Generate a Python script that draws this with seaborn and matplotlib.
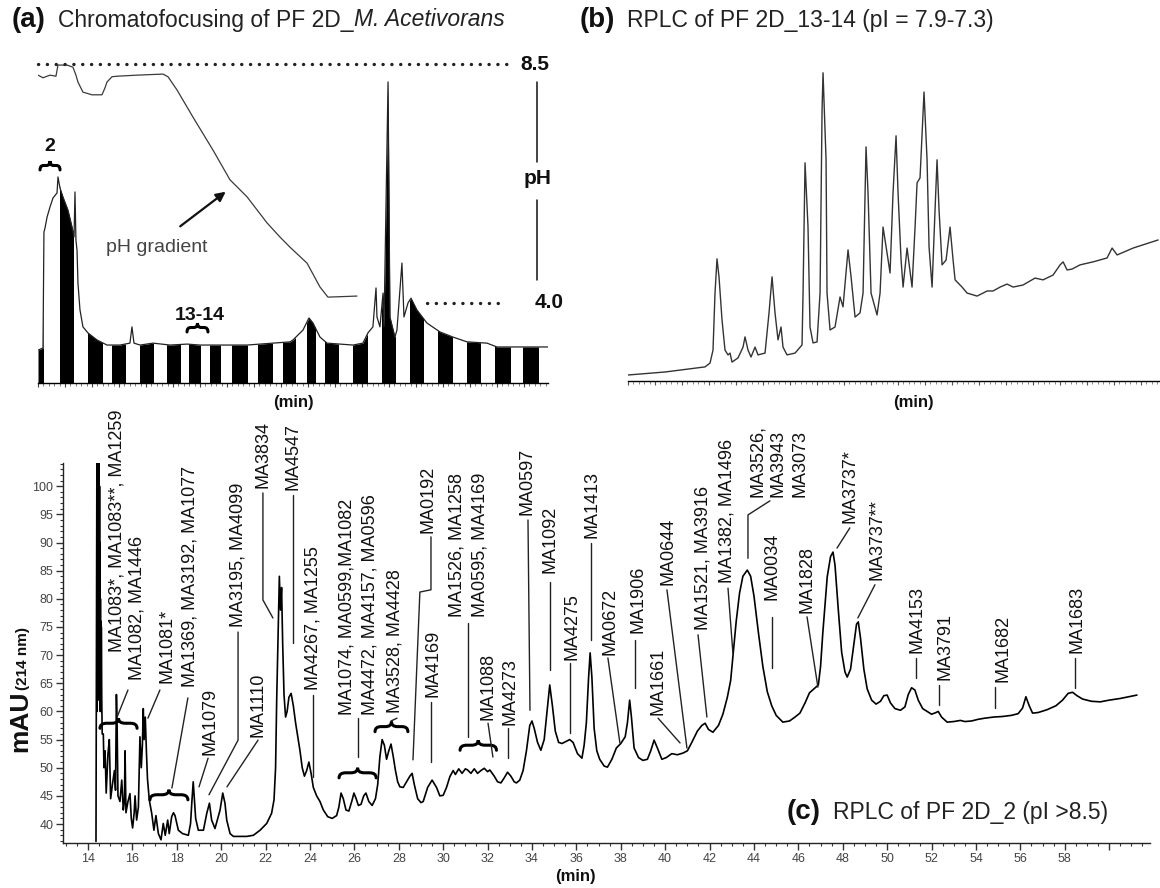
import matplotlib
matplotlib.use("Agg")
import matplotlib.pyplot as plt
from matplotlib.path import Path
from matplotlib.patches import PathPatch, Rectangle
from matplotlib.ticker import MultipleLocator
import seaborn as sns

sns.set_theme(style="white")
plt.rcParams["font.family"] = ["Liberation Sans", "DejaVu Sans"]

# ---------------- (a) chromatofocusing run ----------------
cf_time = [0.0, 0.37, 0.44, 0.52, 0.67, 0.89, 1.11, 1.41, 1.48, 1.63, 1.85, 2.22, 2.52, 2.67,
           2.74, 2.81, 2.89, 2.96, 3.11, 3.33, 3.70, 4.37, 5.11, 6.07, 6.81, 6.96, 7.11, 7.56,
           8.52, 9.78, 11.04, 12.0, 13.48, 15.48, 17.41, 18.67, 18.89, 19.63, 20.07, 20.37,
           20.89, 21.41, 23.33, 24.07, 24.44, 24.81, 25.04, 25.11, 25.33, 25.56, 25.63, 25.93,
           26.07, 26.44, 26.59, 26.96, 27.11, 27.41, 27.63, 28.07, 28.81, 29.78, 30.74, 31.78,
           33.26, 34.0, 35.19, 37.78]
cf_abs = [10.3, 11.0, 47.3, 48.6, 52.0, 55.2, 58.0, 59.6, 64.6, 61.1, 58.3, 54.2, 48.9, 45.8,
          59.9, 44.8, 41.7, 31.3, 22.9, 17.6, 15.7, 13.5, 11.9, 11.9, 12.5, 17.6, 12.5, 11.9,
          12.5, 11.9, 12.2, 11.9, 11.9, 11.9, 12.5, 12.9, 13.5, 16.6, 20.4, 18.8,
          14.4, 12.5, 11.9, 12.5, 15.7, 17.6, 29.8, 20.7, 17.6, 28.2, 17.6, 94.4,
          20.7, 14.4, 16.6, 37.6, 20.7, 25.1, 26.6, 22.9, 18.8, 16.0, 14.4, 12.9,
          12.5, 11.3, 11.3, 11.3]
ph_time = [0.0, 0.37, 0.67, 0.89, 1.33, 1.48, 2.15, 2.59, 2.81, 2.96, 3.33, 4.0, 4.74, 4.96,
           5.11, 5.48, 5.85, 7.33, 9.26, 9.63, 10.3, 11.48, 12.96, 14.22, 15.48, 16.96, 17.93,
           18.67, 19.93, 20.89, 21.48, 23.63]
ph_value = [8.29, 8.24, 8.27, 8.29, 8.27, 8.48, 8.48, 8.44, 8.29, 8.16, 7.97, 7.92, 7.92, 8.05,
            8.16, 8.26, 8.27, 8.29, 8.31, 8.26, 8.01, 7.50, 6.88, 6.32, 6.00, 5.51, 5.24,
            5.05, 4.75, 4.30, 4.11, 4.13]
fraction_edges = [0.0, 0.37, 1.63, 2.59, 3.70, 4.74, 5.48, 6.44, 7.56, 8.52, 9.56, 10.52, 11.19,
                  12.0, 12.74, 13.48, 14.37, 15.48, 16.3, 17.33, 18.15, 19.04, 19.93, 20.52,
                  21.26, 22.22, 23.33, 24.37, 25.48, 26.44, 27.56, 28.52, 29.63, 30.67, 31.78,
                  32.74, 33.85, 34.96, 35.93, 37.04, 37.78]
ph_limits = [8.5, 4.0]

# ---------------- (b) RPLC of fractions 13-14 ----------------
b_time = [0, 6.85, 14.26, 15.19, 15.74, 16.11, 16.48, 16.85, 17.41, 17.96, 18.52, 18.89, 19.26,
          20.37, 21.3, 21.67, 22.22, 22.78, 23.52, 24.07, 25.37, 26.11, 26.67, 27.22, 27.78,
          28.33, 28.7, 29.44, 30.93, 32.22, 32.41, 32.78, 33.33, 33.7, 34.26, 35.0, 35.56,
          35.93, 36.11, 36.67, 36.85, 37.41, 38.33, 39.26, 39.81, 40.74, 41.3, 42.04, 42.96,
          43.52, 44.07, 44.44, 45.0, 46.11, 46.67, 47.22, 47.96, 48.52, 49.07, 49.63, 50.0,
          50.56, 50.93, 51.67, 52.59, 53.15, 53.52, 54.07, 54.81, 55.37, 55.74, 56.3, 56.85,
          57.22, 57.59, 58.15, 58.89, 59.63, 60.19, 60.56, 61.85, 62.78, 64.63, 65.74, 66.48,
          67.59, 68.89, 70.19, 71.3, 73.15, 75.37, 76.85, 78.7, 80.0, 80.56, 81.3, 82.22,
          83.7, 86.11, 88.7, 89.63, 90.56, 93.52, 98.15]
b_abs = [2.0, 3.0, 4.7, 6.0, 10.3, 29.3, 40.7, 34.7, 20.3, 10.3, 8.7, 9.3, 6.3,
         7.7, 11.3, 14.7, 10.3, 8.0, 11.3, 8.7, 9.3, 22.7, 34.7, 22.7, 13.7,
         18.0, 11.3, 8.7, 9.3, 12.0, 29.3, 72.7, 51.3, 18.0, 12.7, 13.0, 29.3,
         90.3, 102.7, 73.7, 29.3, 17.0, 18.0, 28.0, 24.7, 43.7, 34.7, 21.3, 22.7,
         29.3, 78.0, 62.7, 29.3, 22.0, 29.3, 51.3, 42.7, 36.0, 62.7, 81.7, 62.7,
         40.3, 31.3, 44.3, 31.3, 51.3, 66.0, 67.7, 96.3, 73.7, 44.7, 31.3, 57.0,
         73.7, 57.0, 38.7, 40.3, 51.3, 40.3, 33.7, 31.3, 29.3, 28.3, 29.3, 30.0,
         30.0, 31.3, 32.3, 31.3, 32.0, 34.3, 33.7, 35.3, 38.7, 39.7, 37.0, 37.3,
         38.7, 39.7, 41.0, 44.3, 42.0, 44.3, 47.0]

# ---------------- (c) RPLC of fraction 2 ----------------
c_time = [14.36, 14.37, 14.40, 14.41, 14.42, 14.43, 14.44, 14.45, 14.46, 14.47, 14.48, 14.49,
          14.50, 14.51, 14.52, 14.53, 14.54, 14.55, 14.56, 14.57, 14.58, 14.59, 14.60, 14.62,
          14.64, 14.69, 14.72, 14.77, 14.82, 14.90, 14.96, 15.02, 15.10, 15.19, 15.24, 15.28,
          15.31, 15.35, 15.44, 15.52, 15.59, 15.64, 15.67, 15.71, 15.80, 15.89, 15.95, 16.01,
          16.08, 16.12, 16.19, 16.27, 16.34, 16.40, 16.45, 16.49, 16.53, 16.58, 16.64, 16.68,
          16.76, 16.87, 16.97, 17.06, 17.17, 17.29, 17.39, 17.48, 17.59, 17.66, 17.77, 17.85,
          17.92, 18.07, 18.26, 18.52, 18.62, 18.68, 18.74, 18.80, 18.85, 18.97, 19.20, 19.35,
          19.47, 19.57, 19.72, 19.95, 20.07, 20.17, 20.25, 20.40, 20.55, 21.15, 21.45, 21.75,
          22.05, 22.27, 22.38, 22.45, 22.50, 22.57, 22.62, 22.67, 22.72, 22.77, 22.83, 22.90,
          22.97, 23.05, 23.15, 23.25, 23.35, 23.45, 23.55, 23.65, 23.75, 23.85, 23.95, 24.05,
          24.15, 24.30, 24.45, 24.60, 24.80, 25.00, 25.20, 25.30, 25.40, 25.50, 25.62, 25.75,
          25.88, 25.98, 26.08, 26.18, 26.30, 26.42, 26.52, 26.65, 26.80, 26.95, 27.05, 27.15,
          27.25, 27.35, 27.45, 27.55, 27.65, 27.75, 27.85, 27.95, 28.05, 28.20, 28.35, 28.50,
          28.60, 28.70, 28.85, 29.00, 29.10, 29.30, 29.50, 29.70, 29.85, 30.00, 30.15, 30.30,
          30.45, 30.55, 30.70, 30.85, 31.00, 31.10, 31.25, 31.40, 31.55, 31.70, 31.85, 32.00,
          32.10, 32.30, 32.45, 32.60, 32.75, 32.90, 33.05, 33.20, 33.30, 33.45, 33.60, 33.75,
          33.90, 34.00, 34.10, 34.25, 34.40, 34.55, 34.68, 34.80, 34.92, 35.05, 35.20, 35.35,
          35.55, 35.70, 35.85, 36.05, 36.25, 36.35, 36.45, 36.55, 36.62, 36.70, 36.80, 36.92,
          37.05, 37.25, 37.40, 37.60, 37.80, 38.00, 38.20, 38.30, 38.40, 38.48, 38.60, 38.80,
          39.00, 39.20, 39.35, 39.50, 39.65, 39.85, 40.05, 40.30, 40.55, 40.80, 41.00, 41.20,
          41.45, 41.65, 41.80, 41.95, 42.15, 42.40, 42.60, 42.80, 42.95, 43.05, 43.20, 43.35,
          43.50, 43.70, 43.85, 44.00, 44.20, 44.40, 44.60, 44.80, 45.00, 45.30, 45.60, 45.85,
          46.07, 46.30, 46.50, 46.70, 46.90, 47.00, 47.10, 47.20, 47.30, 47.45, 47.56, 47.65,
          47.80, 47.95, 48.10, 48.20, 48.35, 48.50, 48.62, 48.70, 48.80, 48.95, 49.10, 49.30,
          49.50, 49.70, 49.85, 50.00, 50.15, 50.35, 50.60, 50.80, 50.95, 51.10, 51.25, 51.40,
          51.60, 51.80, 52.00, 52.20, 52.30, 52.45, 52.70, 53.00, 53.30, 53.50, 53.80, 54.10,
          54.40, 54.80, 55.20, 55.60, 55.90, 56.10, 56.25, 56.40, 56.55, 56.80, 57.20, 57.60,
          57.90, 58.15, 58.35, 58.55, 58.80, 59.20, 59.60, 60.00, 60.50, 61.00, 61.25]
c_mau = [36.9, 52.0, 104.5, 60.0, 104.5, 62.0, 104.5, 64.0, 104.5, 70.0, 104.5, 66.0,
         104.5, 62.0, 100.0, 66.0, 90.0, 60.0, 80.0, 62.0, 76.0, 60.0, 75.0, 62.0,
         56.0, 56.0, 50.0, 53.0, 45.5, 52.5, 55.0, 44.5, 47.0, 49.5, 46.0, 63.0,
         58.0, 45.0, 44.0, 47.8, 42.5, 44.0, 53.0, 42.0, 44.0, 45.4, 41.0, 39.3,
         42.0, 45.0, 40.7, 43.0, 55.5, 50.0, 54.0, 60.5, 55.0, 59.0, 52.0, 48.0,
         44.3, 41.9, 38.9, 41.5, 38.3, 37.2, 40.1, 38.0, 40.7, 38.3, 41.3, 42.0,
         41.5, 38.9, 38.3, 38.0, 40.1, 44.0, 47.5, 44.0, 41.0, 38.9, 38.9, 41.9,
         43.7, 40.7, 39.2, 42.5, 45.5, 43.7, 40.7, 38.3, 37.8, 37.8, 38.0, 38.9,
         40.1, 41.9, 44.3, 50.0, 62.0, 75.0, 84.0, 78.0, 82.0, 72.0, 63.0, 59.0,
         60.0, 62.5, 63.2, 61.0, 58.0, 55.5, 53.0, 50.0, 48.5, 49.5, 51.0, 49.0,
         46.5, 45.0, 44.0, 42.5, 41.3, 41.0, 41.5, 43.0, 45.5, 44.5, 42.5, 42.3,
         44.0, 45.5, 44.5, 43.3, 43.5, 45.0, 45.5, 44.0, 43.3, 44.5, 47.0, 52.0,
         55.0, 54.0, 51.5, 53.0, 54.2, 52.0, 49.5, 47.5, 46.6, 46.5, 47.5, 48.5,
         49.0, 47.0, 44.5, 43.8, 44.0, 46.5, 47.8, 46.5, 45.0, 45.1, 46.5, 48.4,
         49.5, 48.8, 49.8, 49.0, 49.8, 49.6, 49.0, 49.8, 49.0, 49.5, 49.9, 49.3,
         49.6, 48.5, 47.5, 47.3, 48.2, 49.2, 48.5, 47.5, 47.3, 47.8, 49.5, 53.0,
         57.5, 58.3, 57.0, 54.5, 53.1, 55.0, 60.0, 64.7, 61.0, 56.5, 54.5, 54.3,
         54.7, 55.0, 54.5, 52.5, 51.7, 54.0, 58.0, 66.0, 70.4, 66.0, 57.0, 53.0,
         51.5, 50.3, 50.1, 51.5, 53.5, 54.3, 55.5, 58.0, 62.0, 59.0, 53.5, 51.8,
         51.3, 51.5, 53.0, 54.9, 53.5, 51.5, 51.8, 52.5, 52.3, 52.6, 53.0, 54.5,
         56.5, 57.5, 57.9, 56.8, 56.3, 57.5, 59.5, 62.5, 65.5, 69.7, 76.0, 81.0,
         84.0, 85.1, 84.0, 80.5, 74.0, 68.0, 63.5, 61.0, 59.3, 58.1, 58.3, 59.0,
         59.7, 61.5, 63.3, 64.0, 64.7, 68.0, 73.9, 79.0, 83.9, 87.5, 88.3, 86.0,
         78.0, 70.5, 67.0, 66.1, 67.5, 72.0, 75.5, 75.9, 73.0, 67.5, 64.0, 62.0,
         61.3, 61.8, 62.8, 62.9, 61.5, 60.5, 60.2, 60.8, 63.0, 64.2, 63.8, 62.0,
         60.5, 60.0, 59.5, 59.8, 60.0, 59.0, 58.1, 58.2, 58.4, 58.2, 58.3, 58.6,
         58.8, 59.0, 59.1, 59.3, 59.6, 60.6, 62.6, 61.0, 59.7, 59.8, 60.3, 61.0,
         62.0, 63.2, 63.4, 62.8, 62.2, 61.8, 61.7, 62.0, 62.3, 62.7, 62.9]

# protein identifications: text, column position (min), text foot (mAU)
peak_labels = ["MA1083*, MA1083**, MA1259", "MA1082, MA1446", "MA1081*",
               "MA1369, MA3192, MA1077", "MA1079", "MA3195, MA4099", "MA1110", "MA3834",
               "MA4547", "MA4267, MA1255", "MA1074, MA0599,MA1082", "MA4472, MA4157, MA0596",
               "MA3528, MA4428", "MA0192", "MA4169", "MA1526, MA1258", "MA0595, MA4169",
               "MA1088", "MA4273", "MA0597", "MA1092", "MA4275", "MA1413", "MA0672", "MA1906",
               "MA1661", "MA0644", "MA1521, MA3916", "MA1382, MA1496", "MA3526,", "MA3943",
               "MA3073", "MA0034", "MA1828", "MA3737*", "MA3737**", "MA4153", "MA3791",
               "MA1682", "MA1683"]
label_t = [15.31, 16.21, 17.56, 18.59, 19.50, 20.76, 21.66, 21.88, 23.23, 24.14, 25.67, 26.70,
           27.83, 29.32, 29.54, 30.62, 31.66, 32.02, 33.01, 33.77, 34.81, 35.80, 36.70, 37.51,
           38.77, 39.68, 40.13, 41.70, 42.78, 44.18, 45.08, 46.07, 44.81, 46.39, 48.32, 49.54,
           51.34, 52.60, 55.22, 58.55]
label_v = [70.5, 65.6, 65.0, 64.3, 52.3, 75.0, 55.5, 99.7, 99.3, 63.8, 59.4, 59.4,
           59.7, 91.7, 62.6, 76.8, 76.8, 58.5, 57.6, 94.9, 84.6, 69.1, 90.8, 70.0,
           73.9, 59.4, 82.5, 74.5, 82.8, 98.1, 98.1, 98.1, 79.8, 77.5, 93.5, 83.3,
           70.4, 65.6, 65.2, 70.4]
# leader lines from label to peak (min, mAU)
leader_t = [[15.80, 15.31], [17.24, 16.70], [18.50, 17.78], [19.41, 19.00],
            [20.76, 20.76, 19.45], [21.66, 20.26], [21.88, 21.88, 22.33], [23.23, 23.23],
            [24.14, 24.14], [26.16, 26.16], [27.92, 27.65], [29.45, 29.45, 28.95, 28.64],
            [29.45, 29.45], [31.12, 31.12], [32.02, 32.24], [32.92, 32.92], [33.82, 33.91],
            [34.81, 34.81], [35.71, 35.71], [36.66, 36.66], [37.42, 37.96], [38.64, 38.64],
            [39.68, 40.67], [40.08, 40.98], [41.48, 41.88], [42.83, 43.05],
            [44.72, 43.73, 43.73], [44.81, 44.81], [46.39, 46.88], [48.32, 47.74],
            [49.45, 48.68], [51.30, 51.30], [52.33, 52.33], [54.86, 54.86], [58.46, 58.46]]
leader_v = [[63.8, 59.0], [63.8, 58.8], [62.4, 46.4], [51.7, 46.6],
            [74.1, 54.9, 45.2], [54.9, 46.6], [98.8, 79.8, 76.6], [98.4, 72.1],
            [62.9, 48.3], [58.8, 51.9], [58.8, 58.3], [91.0, 81.6, 81.2, 51.4],
            [61.7, 51.0], [75.7, 55.5], [57.9, 51.9], [57.1, 51.7], [94.0, 60.2],
            [83.0, 67.4], [68.6, 56.2], [89.9, 72.7], [69.5, 54.4], [72.7, 64.2],
            [58.8, 54.4], [81.6, 53.5], [73.6, 59.0], [81.9, 70.4],
            [97.4, 94.9, 87.2], [76.8, 67.7], [76.8, 64.3], [92.6, 89.0],
            [82.5, 76.6], [69.5, 65.9], [64.7, 61.1], [64.3, 60.6], [69.5, 64.2]]
# grouped peaks marked with braces: start, end (min), foot (mAU)
brace_t0 = [14.54, 16.79, 25.31, 26.93, 30.76]
brace_t1 = [16.21, 18.50, 26.98, 28.41, 32.40]
brace_v = [57.0, 44.3, 48.2, 56.4, 53.1]

W, H = 1160, 888
fig = plt.figure(figsize=(W / 100, H / 100), dpi=100)
fig.patch.set_facecolor("white")


def px_box(x0, y0, x1, y1):
    return [x0 / W, 1 - y1 / H, (x1 - x0) / W, (y1 - y0) / H]


def hbrace(ax, x0, x1, y0, h, lw=2.2):
    xm = 0.5 * (x0 + x1)
    d = 0.18 * (x1 - x0)
    ym = y0 + 0.5 * h
    verts = [(x0, y0), (x0, ym), (x0 + d, ym), (xm - d, ym), (xm, ym), (xm, y0 + h),
             (xm, ym), (xm + d, ym), (x1 - d, ym), (x1, ym), (x1, y0)]
    codes = [Path.MOVETO, Path.CURVE3, Path.CURVE3, Path.LINETO, Path.CURVE3, Path.CURVE3,
             Path.CURVE3, Path.CURVE3, Path.LINETO, Path.CURVE3, Path.CURVE3]
    ax.add_patch(PathPatch(Path(verts, codes), fill=False, lw=lw, color="black",
                           clip_on=False, capstyle="round"))


def style_bottom_only(ax):
    for side in ["left", "right", "top"]:
        ax.spines[side].set_visible(False)
    ax.spines["bottom"].set_color("black")
    ax.spines["bottom"].set_linewidth(1.0)
    ax.set_facecolor("none")


# ===== panel (a) =====
ax_a = fig.add_axes(px_box(38, 58, 548, 383))
ax_a.set_xlim(fraction_edges[0], fraction_edges[-1])
ax_a.set_ylim(0, 101.9)
style_bottom_only(ax_a)
top = 101.9
for i in range(len(fraction_edges) - 1):
    if i % 2 == 0:
        coll = ax_a.fill_between(cf_time, 0, cf_abs, color="black", lw=0)
        rect = Rectangle((fraction_edges[i], 0), fraction_edges[i + 1] - fraction_edges[i],
                         top, transform=ax_a.transData)
        coll.set_clip_path(rect)
sns.lineplot(x=cf_time, y=cf_abs, ax=ax_a, color="#222222", linewidth=0.9, sort=False,
             estimator=None)
ax_a.xaxis.set_major_locator(MultipleLocator(2.0))
ax_a.xaxis.set_minor_locator(MultipleLocator(0.4))
ax_a.tick_params(axis="x", which="major", bottom=True, length=3, width=0.8, color="#444",
                 labelbottom=False)
ax_a.tick_params(axis="x", which="minor", bottom=True, length=1.8, width=0.6, color="#666")
ax_a.set_yticks([])
ax_a.set_xlabel("")
ax_a.set_ylabel("")

ax_ph = ax_a.twinx()
ax_ph.set_ylim(2.493, 8.613)
for side in ["left", "right", "top", "bottom"]:
    ax_ph.spines[side].set_visible(False)
ax_ph.set_yticks([])
sns.lineplot(x=ph_time, y=ph_value, ax=ax_ph, color="#3a3a3a", linewidth=0.9, sort=False,
             estimator=None)
ax_ph.set_ylabel("")
dot = dict(color="#222", lw=2.4, linestyle=(0, (0.05, 2.6)), dash_capstyle="round")
ax_ph.plot([0.0, 35.2], [ph_limits[0]] * 2, clip_on=False, **dot)
ax_ph.plot([28.8, 34.4], [ph_limits[1]] * 2, clip_on=False, **dot)
bold = dict(fontweight="bold", color="#111")
ax_ph.text(36.8, ph_limits[0], "8.5", ha="center", va="center", fontsize=15, clip_on=False,
           **bold)
ax_ph.text(37.9, ph_limits[1], "4.0", ha="center", va="center", fontsize=15, clip_on=False,
           **bold)
ax_ph.text(37.0, 6.35, "pH", ha="center", va="center", fontsize=15, clip_on=False, **bold)
ax_ph.plot([37.0, 37.0], [8.16, 6.65], color="#111", lw=1.1, clip_on=False)
ax_ph.plot([37.0, 37.0], [5.94, 4.43], color="#111", lw=1.1, clip_on=False)

ax_a.text(8.8, 42.6, "pH gradient", ha="center", va="center", fontsize=14, color="#444")
ax_a.annotate("", xy=(14.07, 60.5), xytext=(10.37, 48.6),
              arrowprops=dict(arrowstyle="-|>", lw=1.6, color="#111", mutation_scale=14))
ax_a.text(0.89, 74.0, "2", ha="center", va="center", fontsize=14, **bold)
hbrace(ax_a, 0.15, 1.63, 66.8, 2.8)
ax_a.text(12.0, 21.3, "13-14", ha="center", va="center", fontsize=14, **bold)
hbrace(ax_a, 11.04, 12.59, 16.0, 2.8)
fig.text(293 / W, 1 - 402 / H, "(min)", ha="center", va="center", fontsize=12, **bold)

# ===== panel (b) =====
ax_b = fig.add_axes(px_box(628, 65, 1160, 381))
ax_b.set_xlim(0, 98.5)
ax_b.set_ylim(0, 105.3)
style_bottom_only(ax_b)
sns.lineplot(x=b_time, y=b_abs, ax=ax_b, color="#333333", linewidth=1.0, sort=False,
             estimator=None)
ax_b.xaxis.set_major_locator(MultipleLocator(5))
ax_b.xaxis.set_minor_locator(MultipleLocator(1))
ax_b.tick_params(axis="x", which="major", bottom=True, length=3, width=0.8, color="#555",
                 labelbottom=False)
ax_b.tick_params(axis="x", which="minor", bottom=True, length=1.8, width=0.6, color="#777")
ax_b.set_yticks([])
ax_b.set_xlabel("")
ax_b.set_ylabel("")
fig.text(913 / W, 1 - 402 / H, "(min)", ha="center", va="center", fontsize=12, **bold)

# ===== panel (c) =====
ax_c = fig.add_axes(px_box(63, 463, 1150, 843))
ax_c.set_xlim(12.874, 61.84)
ax_c.set_ylim(36.63, 104.12)
ax_c.set_facecolor("none")
for side in ["right", "top"]:
    ax_c.spines[side].set_visible(False)
for side in ["left", "bottom"]:
    ax_c.spines[side].set_color("#222")
    ax_c.spines[side].set_linewidth(1.0)
sns.lineplot(x=c_time, y=c_mau, ax=ax_c, color="black", linewidth=1.2, sort=False,
             estimator=None)
ax_c.set_xlabel("")
ax_c.set_ylabel("")
ax_c.set_xticks(range(14, 62, 2))
ax_c.set_xticklabels([str(v) if v <= 58 else "" for v in range(14, 62, 2)])
ax_c.xaxis.set_minor_locator(MultipleLocator(0.5))
ax_c.set_yticks(range(40, 101, 5))
ax_c.yaxis.set_minor_locator(MultipleLocator(1))
ax_c.tick_params(axis="both", which="major", direction="out", length=5, width=1.0,
                 color="#333", labelsize=9, labelcolor="#444", pad=2)
ax_c.tick_params(axis="both", which="minor", direction="out", length=2.5, width=0.8,
                 color="#333")
ax_c.tick_params(axis="x", which="both", bottom=True)
ax_c.tick_params(axis="y", which="both", left=True)

for txt, tx, tv in zip(peak_labels, label_t, label_v):
    ax_c.text(tx, tv, txt, rotation=90, ha="center", va="bottom", fontsize=13,
              color="#111", clip_on=False)
for lt, lv in zip(leader_t, leader_v):
    ax_c.plot(lt, lv, color="#222", lw=1.0, clip_on=False)
for b0, b1, bv in zip(brace_t0, brace_t1, brace_v):
    hbrace(ax_c, b0, b1, bv, 1.8)

fig.text(27 / W, 1 - 752 / H, "mAU", rotation=90, rotation_mode="anchor", ha="left",
         va="baseline", fontsize=19, **bold)
fig.text(27 / W, 1 - 690 / H, "(214 nm)", rotation=90, rotation_mode="anchor", ha="left",
         va="baseline", fontsize=11, **bold)
fig.text(575 / W, 1 - 876 / H, "(min)", ha="center", va="center", fontsize=12, **bold)

# ===== panel titles =====
title_y = 1 - 20 / H
fig.text(12 / W, title_y, "(a)", ha="left", va="center", fontsize=20, **bold)
t_a = fig.text(58 / W, title_y, "Chromatofocusing of PF 2D_", ha="left", va="center",
               fontsize=16.5, color="#222")
t_species = fig.text(58 / W, title_y, "M. Acetivorans", ha="left", va="center",
                     fontsize=16.5, color="#222", style="italic")
fig.text(580 / W, title_y, "(b)", ha="left", va="center", fontsize=20, **bold)
fig.text(627 / W, title_y, "RPLC of PF 2D_13-14 (pI = 7.9-7.3)", ha="left", va="center",
         fontsize=16.5, color="#222")
fig.text(787 / W, 1 - 812 / H, "(c)", ha="left", va="center", fontsize=20, **bold)
fig.text(833 / W, 1 - 812 / H, "RPLC of PF 2D_2 (pI >8.5)", ha="left", va="center",
         fontsize=16.5, color="#222")

# the italic species name continues the roman part of the title
renderer = fig.canvas.get_renderer()
bb = t_a.get_window_extent(renderer)
t_species.set_position((bb.x1 / W, title_y))

fig.savefig("out.png", dpi=100, facecolor="white")
